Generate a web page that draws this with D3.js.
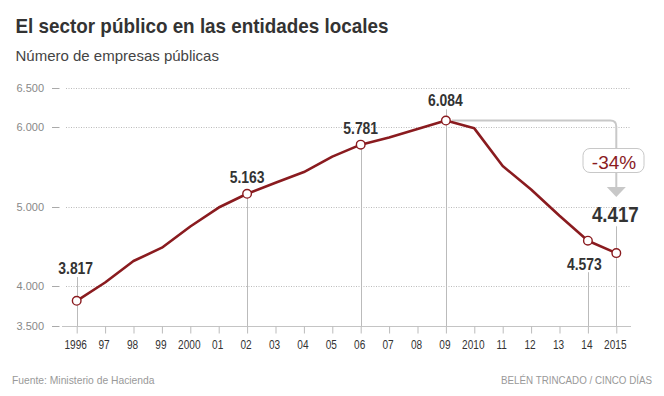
<!DOCTYPE html>
<html><head><meta charset="utf-8">
<script src="https://cdn.jsdelivr.net/npm/d3@7"></script>
<style>
html,body{margin:0;padding:0;background:#fff;}
svg{display:block;}
.reg{font-family:"Liberation Sans",Arial,sans-serif;}
</style></head>
<body>
<svg id="c" width="664" height="396"></svg>
<script>
const years = [1996,1997,1998,1999,2000,2001,2002,2003,2004,2005,2006,2007,2008,2009,2010,2011,2012,2013,2014,2015];
const values = [3817,4047,4317,4485,4752,4990,5163,5302,5436,5630,5781,5872,5977,6084,5986,5512,5217,4887,4573,4417];
const xTickLabels = ["1996","97","98","99","2000","01","02","03","04","05","06","07","08","09","2010","11","12","13","14","2015"];
const yTicks = [3500,4000,5000,6000,6500];
const yTickLabels = ["3.500","4.000","5.000","6.000","6.500"];
const labeledYears = [1996,2002,2006,2009,2014,2015];
const labelTexts = ["3.817","5.163","5.781","6.084","4.573","4.417"];
const changeLabel = "-34%";
const titleText = "El sector público en las entidades locales";
const subtitleText = "Número de empresas públicas";
const sourceText = "Fuente: Ministerio de Hacienda";
const creditText = "BELÉN TRINCADO / CINCO DÍAS";

// layout for the annotations (offsets relative to points)
const labelLayout = {
  1996:{dx:-1, dy:-32.5, size:16, lineFrom:"label"},
  2002:{dx:0, dy:-17, size:16, lineFrom:"point"},
  2006:{dx:0, dy:-16, size:16, lineFrom:"point"},
  2009:{dx:-0.5, dy:-20, size:16, lineFrom:"label"},
  2014:{dx:-3.5, dy:23.5, size:16, lineFrom:"label"},
  2015:{dx:-1, dy:-38.6, size:21.5, lineFrom:"label"}
};

// narrow a text selection horizontally (condensed look) keeping real text
function condense(sel, ratio){
  sel.each(function(){
    const w = this.getComputedTextLength();
    d3.select(this).attr("textLength", w*ratio).attr("lengthAdjust","spacingAndGlyphs");
  });
}

const svg = d3.select("#c");
const red = "#8a1b1f";
const x = d3.scaleLinear().domain([1996,2015]).range([76.7,616.3]);
const y = d3.scaleLinear().domain([3500,6500]).range([326,87.5]);

// title
svg.append("text").attr("class","reg").attr("x",15.5).attr("y",33.3)
  .attr("font-size",21).attr("font-weight","bold").attr("fill","#333").text(titleText)
  .attr("textLength",373).attr("lengthAdjust","spacingAndGlyphs");
svg.append("text").attr("class","reg").attr("x",15.5).attr("y",61)
  .attr("font-size",15).attr("fill","#444").text(subtitleText);

// gridlines
const grid = svg.append("g");
grid.selectAll("line.g").data(yTicks.filter(d=>d!==3500)).join("line")
  .attr("x1",66).attr("x2",631).attr("y1",d=>Math.round(y(d))+0.5).attr("y2",d=>Math.round(y(d))+0.5)
  .attr("stroke","#bbb").attr("stroke-width",1).attr("stroke-dasharray","1,1.5");
// y tick dashes
grid.selectAll("line.t").data(yTicks).join("line")
  .attr("x1",52).attr("x2",59.5).attr("y1",d=>Math.round(y(d))+0.5).attr("y2",d=>Math.round(y(d))+0.5)
  .attr("stroke","#aaa").attr("stroke-width",1);
// y labels
grid.selectAll("text").data(yTicks).join("text").attr("class","reg")
  .attr("x",44).attr("y",d=>y(d)+4).attr("text-anchor","end")
  .attr("font-size",11).attr("fill","#888").text((d,i)=>yTickLabels[i]);

// x axis
const xAxis = d3.axisBottom(x).tickValues(years).tickSize(7).tickPadding(7)
  .tickFormat((d,i)=>xTickLabels[i]);
const gx = svg.append("g").attr("transform",`translate(0,${Math.round(y(3500))+0.5})`).call(xAxis);
gx.select(".domain").remove();
gx.selectAll(".tick line").attr("stroke","#bbb");
gx.selectAll(".tick text").attr("class","reg").attr("font-family",null).attr("font-size",12).attr("fill","#333")
  .attr("dx",-1.5).call(condense,0.84);
gx.insert("line",":first-child").attr("x1",62).attr("x2",631).attr("y1",0).attr("y2",0)
  .attr("stroke","#c4c4c4").attr("stroke-width",1);

// drop lines
const dropG = svg.append("g");
labeledYears.forEach((yr,i)=>{
  const v = values[years.indexOf(yr)];
  const L = labelLayout[yr];
  let y0;
  if (L.lineFrom==="point") y0 = y(v);
  else y0 = y(v)+L.dy + (L.dy<0 ? L.size*0.55 : L.size*0.5);
  dropG.append("line").attr("x1",Math.round(x(yr))+0.5).attr("x2",Math.round(x(yr))+0.5)
    .attr("y1",y0).attr("y2",y(3500)).attr("stroke","#bbb").attr("stroke-width",1);
});

// annotation arrow
const peakY = y(6084), endX = x(2015), r = 6;
const arrowTop = 187;
svg.append("path")
  .attr("d",`M${x(2009)+6},${peakY} H${endX-r} Q${endX},${peakY} ${endX},${peakY+r} V${arrowTop}`)
  .attr("fill","none").attr("stroke","#c8c8c8").attr("stroke-width",2);
svg.append("path")
  .attr("d",`M${endX-9.5},${arrowTop} L${endX+9.5},${arrowTop} L${endX},${arrowTop+10} Z`)
  .attr("fill","#c8c8c8");
svg.append("rect").attr("x",583).attr("y",148.5).attr("width",61).attr("height",24).attr("rx",7)
  .attr("fill","#fff").attr("stroke","#c8c8c8").attr("stroke-width",1);
svg.append("text").attr("class","reg").attr("x",614).attr("y",168.5).attr("text-anchor","middle")
  .attr("font-size",19).attr("fill",red).text(changeLabel);

// line
const line = d3.line().x((d,i)=>x(years[i])).y(d=>y(d)).curve(d3.curveLinear);
svg.append("path").datum(values).attr("d",line).attr("fill","none")
  .attr("stroke",red).attr("stroke-width",2.6).attr("stroke-linejoin","round");

// points
svg.selectAll("circle.p").data(labeledYears).join("circle")
  .attr("cx",d=>x(d)).attr("cy",d=>y(values[years.indexOf(d)])).attr("r",4.3)
  .attr("fill","#fff").attr("stroke",red).attr("stroke-width",1.4);

// labels
svg.selectAll("text.lab").data(labeledYears).join("text").attr("class","reg")
  .attr("x",d=>x(d)+labelLayout[d].dx)
  .attr("y",d=>y(values[years.indexOf(d)])+labelLayout[d].dy+labelLayout[d].size*0.36)
  .attr("text-anchor","middle").attr("font-weight","bold")
  .attr("font-size",d=>labelLayout[d].size).attr("fill","#333")
  .text((d,i)=>labelTexts[i]).call(condense,0.87);

// footer
svg.append("text").attr("class","reg").attr("x",12).attr("y",384).attr("font-size",10.3)
  .attr("fill","#999").text(sourceText);
svg.append("text").attr("class","reg").attr("x",652).attr("y",384).attr("text-anchor","end")
  .attr("font-size",10.3).attr("fill","#999").text(creditText).call(condense,0.95);
</script>
</body></html>
